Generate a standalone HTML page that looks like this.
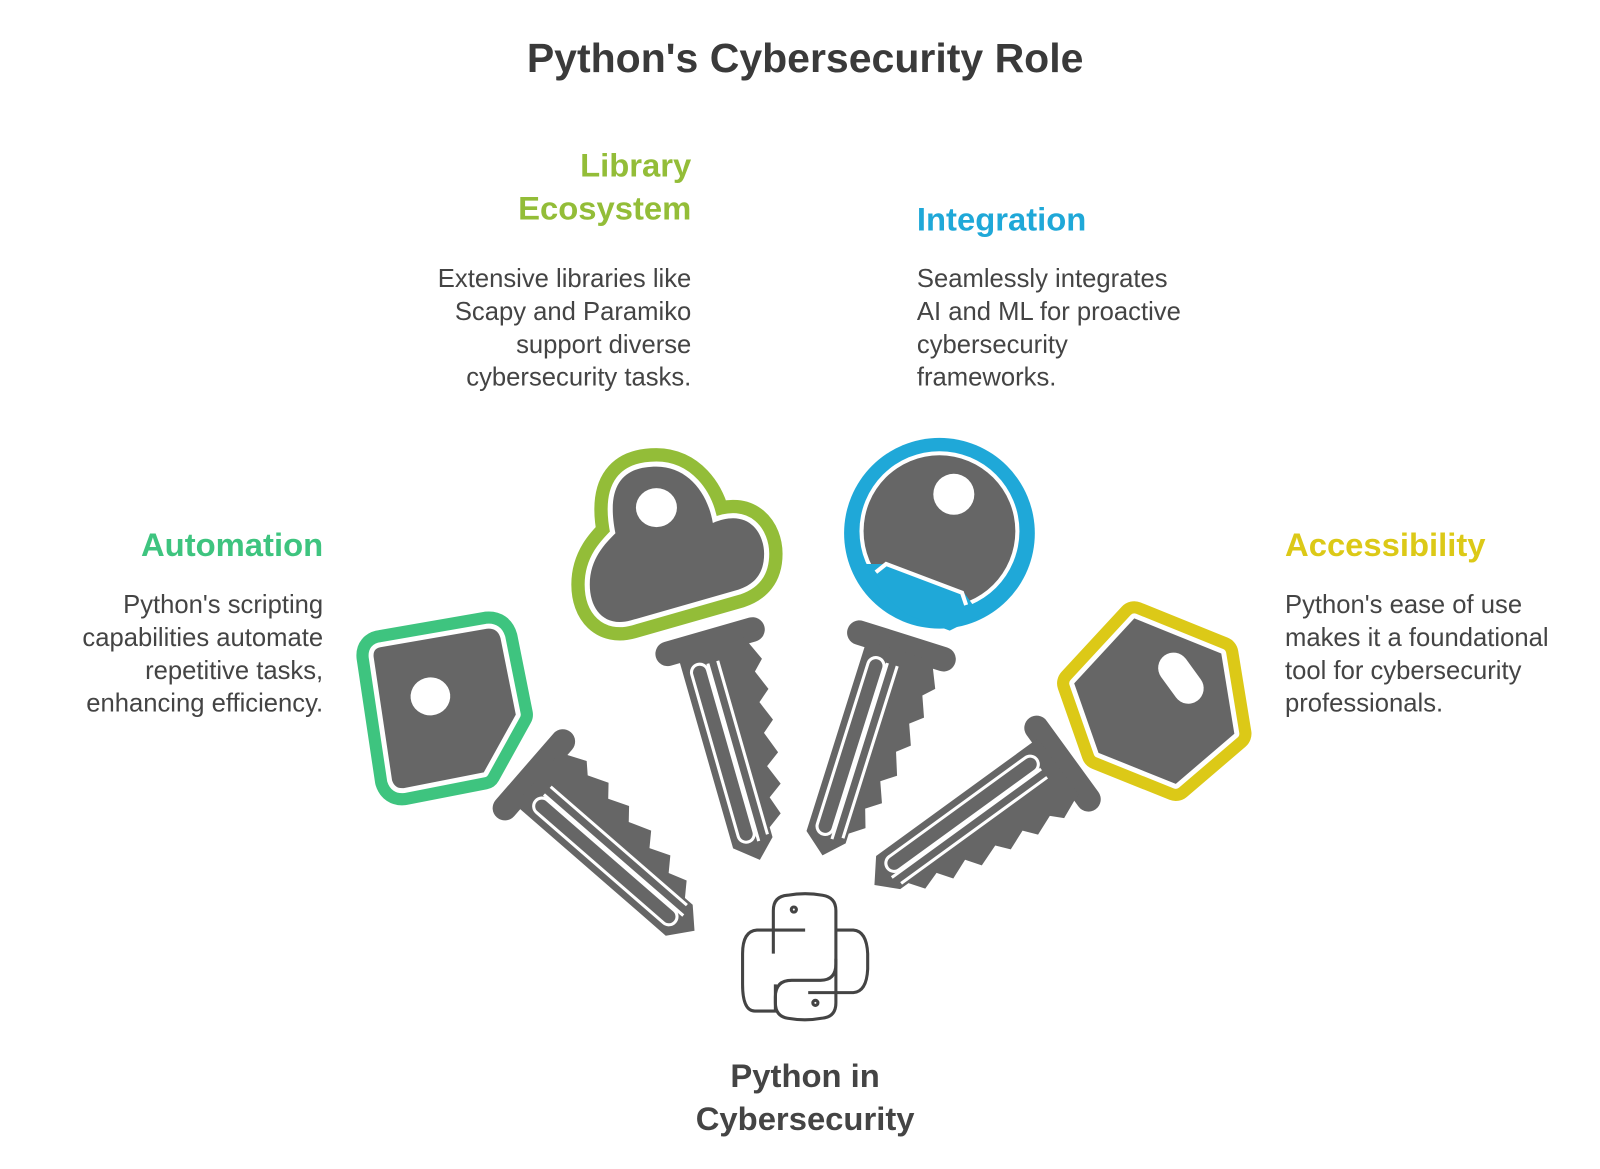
<!DOCTYPE html>
<html><head><meta charset="utf-8"><style>
html,body{margin:0;padding:0;background:#fff;}
svg{display:block;}
text{font-family:"Liberation Sans",sans-serif;}
.t{font-weight:bold;}
.b{fill:#444;font-size:25px;}
</style></head><body>
<svg width="1600" height="1169" viewBox="0 0 1560 1140" xmlns="http://www.w3.org/2000/svg">
<defs>
<g id="blade">
  <rect x="-55" y="88" width="110" height="24" rx="12" fill="#666"/>
  <path d="M-34 105 L-34 300 L-12 318 L6 300 L6 290 L20 280 L14 262 L28 252 L20 232 L34 222 L26 200 L38 190 L30 170 L42 160 L34 140 L44 130 L36 112 L34 105 Z" fill="#666"/>
  <path d="M-8 120 L-8 300 M2 120 L2 296" stroke="#fff" stroke-width="3" fill="none"/>
  <rect x="-26" y="118" width="16" height="180" rx="8" fill="none" stroke="#fff" stroke-width="3"/>
</g>
<path id="ghead" d="M-68 -70 L50 -78 Q62 -78 64 -66 L72 20 L30 80 L-60 88 Q-70 88 -72 78 L-78 -60 Q-78 -70 -68 -70 Z"/>
<path id="lhead" d="M600 520 C590 470 610 455 640 455 C670 455 690 480 695 510 C730 495 745 520 745 540 C745 560 735 570 720 575 L615 605 C590 612 575 595 575 570 C575 545 590 530 600 520 Z"/>
<path id="yhead" d="M-10 -92 L80 -40 L82 50 L10 96 L-70 50 L-86 -30 Z"/>
</defs>
<rect width="1560" height="1140" fill="#fff"/>
<text x="785" y="70" text-anchor="middle" class="t" font-size="40" fill="#3a3a3a">Python's Cybersecurity Role</text>

<text x="674" y="172" text-anchor="end" class="t" font-size="32" fill="#93bd38">Library</text>
<text x="674" y="214" text-anchor="end" class="t" font-size="32" fill="#93bd38">Ecosystem</text>
<text text-anchor="end" class="b"><tspan x="674" y="280">Extensive libraries like</tspan><tspan x="674" y="312">Scapy and Paramiko</tspan><tspan x="674" y="344">support diverse</tspan><tspan x="674" y="376">cybersecurity tasks.</tspan></text>

<text x="894" y="225" class="t" font-size="32" fill="#1fa8d8">Integration</text>
<text class="b"><tspan x="894" y="280">Seamlessly integrates</tspan><tspan x="894" y="312">AI and ML for proactive</tspan><tspan x="894" y="344">cybersecurity</tspan><tspan x="894" y="376">frameworks.</tspan></text>

<text x="315" y="542" text-anchor="end" class="t" font-size="32" fill="#3ec47f">Automation</text>
<text text-anchor="end" class="b"><tspan x="315" y="598">Python's scripting</tspan><tspan x="315" y="630">capabilities automate</tspan><tspan x="315" y="662">repetitive tasks,</tspan><tspan x="315" y="694">enhancing efficiency.</tspan></text>

<text x="1253" y="542" class="t" font-size="32" fill="#dcc917">Accessibility</text>
<text class="b"><tspan x="1253" y="598">Python's ease of use</tspan><tspan x="1253" y="630">makes it a foundational</tspan><tspan x="1253" y="662">tool for cybersecurity</tspan><tspan x="1253" y="694">professionals.</tspan></text>

<!-- green key -->
<g transform="translate(445,690) rotate(-49)">
  <use href="#blade"/>
</g>
<g transform="translate(438,686) rotate(-6) scale(0.88)">
  <use href="#ghead" fill="#666" stroke="#3ec47f" stroke-width="38" stroke-linejoin="round"/>
  <use href="#ghead" fill="#666" stroke="#fff" stroke-width="11" stroke-linejoin="round"/>
  <use href="#ghead" fill="#666"/>
  <ellipse cx="-20" cy="-10" rx="22" ry="21" fill="#fff"/>
</g>

<!-- lime key -->
<g transform="translate(662,520) rotate(-16)">
  <use href="#blade" transform="translate(0,10)"/>
</g>
<use href="#lhead" fill="#666" stroke="#93bd38" stroke-width="36" stroke-linejoin="round"/>
<use href="#lhead" fill="#666" stroke="#fff" stroke-width="10" stroke-linejoin="round"/>
<use href="#lhead" fill="#666"/>
<ellipse cx="640" cy="495" rx="20" ry="19" fill="#fff"/>

<!-- blue key -->
<g transform="translate(912,525) rotate(17.5)">
  <use href="#blade" transform="translate(0,10)"/>
</g>
<g transform="translate(916,520)">
  <ellipse cx="0" cy="0" rx="93" ry="93" fill="#1fa8d8"/>
  <ellipse cx="0" cy="-2" rx="78" ry="78" fill="#fff"/>
  <ellipse cx="0" cy="-2" rx="74" ry="74" fill="#666"/>
  <path d="M-72 30 Q-60 60 -30 80 L10 95 L40 80 L24 58 L-50 30 Z" fill="#1fa8d8"/>
  <path d="M-62 38 L-52 30 L22 58 L26 70" stroke="#fff" stroke-width="4" fill="none"/>
  <ellipse cx="14" cy="-38" rx="20" ry="20" fill="#fff"/>
</g>

<!-- yellow key -->
<g transform="translate(1125,680) rotate(54)">
  <use href="#blade" transform="translate(0,10)"/>
</g>
<g transform="translate(1126,682) rotate(-8) scale(0.88)">
  <use href="#yhead" fill="#666" stroke="#dcc917" stroke-width="38" stroke-linejoin="round"/>
  <use href="#yhead" fill="#666" stroke="#fff" stroke-width="11" stroke-linejoin="round"/>
  <use href="#yhead" fill="#666"/>
  <rect x="14" y="-50" width="34" height="62" rx="17" fill="#fff" transform="rotate(-28 31 -21)"/>
</g>
<!-- python logo -->
<g fill="none" stroke="#444" stroke-width="3" stroke-linejoin="round">
  <path d="M754 930 L754 888 Q754 874 768 873 Q785 870 802 873 Q815 875 815 888 L815 940 Q815 956 800 956 L772 956 Q756 956 756 972 L756 986 L736 986 Q724 986 724 960 L724 930 Q724 908 738 907 L785 907"/>
  <path d="M815 935 L815 978 Q815 992 801 993 Q785 996 768 993 Q756 991 756 978 L756 960 M815 907 L832 907 Q845 908 846 930 L846 945 Q845 967 832 968 L788 968"/>
  <circle cx="774" cy="887" r="2.5"/>
  <circle cx="795" cy="978" r="2.5"/>
</g>
<text x="785" y="1060" text-anchor="middle" class="t" font-size="32" fill="#444">Python in</text>
<text x="785" y="1102" text-anchor="middle" class="t" font-size="32" fill="#444">Cybersecurity</text>
</svg>
</body></html>
